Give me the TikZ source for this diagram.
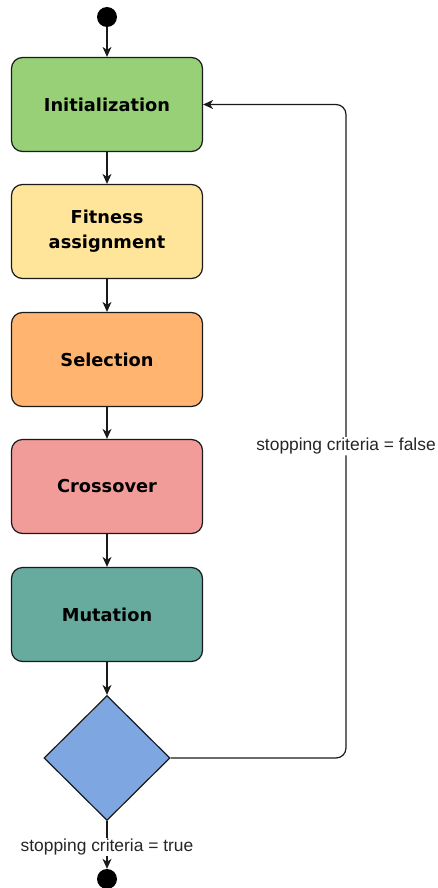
\documentclass[tikz,border=0pt]{standalone}
\usepackage{fontspec}
\setmainfont{Liberation Sans}
\newfontfamily\boxfont{DejaVu Sans}
\usetikzlibrary{arrows.meta,shapes.geometric}

\definecolor{initfill}{HTML}{97D077}
\definecolor{fitfill}{HTML}{FFE599}
\definecolor{selfill}{HTML}{FFB570}
\definecolor{crossfill}{HTML}{F19C99}
\definecolor{mutfill}{HTML}{67AB9F}
\definecolor{decfill}{HTML}{7EA6E0}
\definecolor{edgecol}{HTML}{1A1A1A}

\begin{document}
\begin{tikzpicture}[x=1pt,y=-1pt,
  stepbox/.style={draw=edgecol, line width=1.2pt, rounded corners=11pt,
    minimum width=191pt, minimum height=94pt, inner sep=0pt, align=center,
    font=\boxfont\bfseries\fontsize{17.8}{25}\selectfont},
  decision/.style={diamond, draw=edgecol, line width=1.2pt, fill=decfill,
    minimum width=126pt, minimum height=125pt, inner sep=0pt},
  terminal/.style={circle, fill=black, minimum size=20pt, inner sep=0pt},
  flow/.style={draw=edgecol, line width=1.2pt,
    -{Stealth[length=10pt,width=9pt,inset=3pt]}},
  lbl/.style={fill=white, inner sep=1pt,
    font=\fontsize{17.4}{20}\selectfont, text=black!85}
]
\useasboundingbox (0,0) rectangle (438,888);

\node[terminal] (start) at (107,17) {};
\node[stepbox, fill=initfill]  (init)  at (107,104.5) {Initialization};
\node[stepbox, fill=fitfill]   (fit)   at (107,231.5) {Fitness\\assignment};
\node[stepbox, fill=selfill]   (sel)   at (107,359.5) {Selection};
\node[stepbox, fill=crossfill] (cross) at (107,486.5) {Crossover};
\node[stepbox, fill=mutfill]   (mut)   at (107,614.5) {Mutation};
\node[decision] (dec) at (107,758) {};
\node[terminal] (stop) at (107,879) {};

\coordinate (loopbot) at (346,758);
\coordinate (looptop) at (346,104.5);

\draw[flow] (start) -- (init);
\draw[flow] (init) -- (fit);
\draw[flow] (fit) -- (sel);
\draw[flow] (sel) -- (cross);
\draw[flow] (cross) -- (mut);
\draw[flow] (mut) -- (dec);
\draw[flow] (dec.south) -- node[lbl, pos=0.55] {stopping criteria = true} (stop);
\draw[flow, rounded corners=10pt] (dec.east) -- (loopbot)
  -- node[lbl, pos=0.477] {stopping criteria = false} (looptop) -- (init.east);
\end{tikzpicture}
\end{document}
